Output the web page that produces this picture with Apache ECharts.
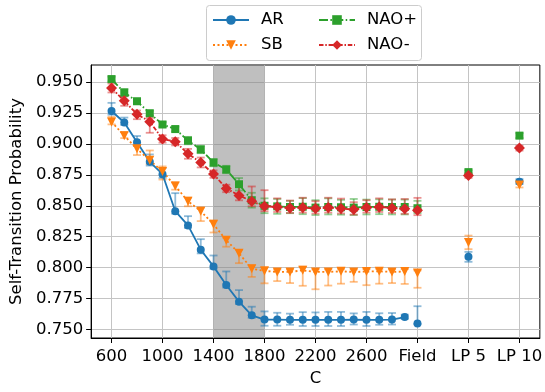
<!DOCTYPE html>
<html><head><meta charset="utf-8">
<script src="https://cdn.jsdelivr.net/npm/echarts@6/dist/echarts.min.js"></script>
<style>html,body{margin:0;padding:0;background:#fff}#c{width:545px;height:392px}</style>
</head><body><div id="c"></div><script>
// ---- data ----
const cValues = [600,700,800,900,1000,1100,1200,1300,1400,1500,1600,1700,1800,1900,2000,2100,2200,2300,2400,2500,2600,2700,2800,2900];
const extraPositions = [3000,3400,3800];
const xTickValues = [600,1000,1400,1800,2200,2600,3000,3400,3800];
const xTickLabels = ['600','1000','1400','1800','2200','2600','Field','LP 5','LP 10'];
const yTickValues = [0.75,0.775,0.8,0.825,0.85,0.875,0.9,0.925,0.95];
const shadeRange = [1400,1800];

const arMain = [0.9266,0.9173,0.9014,0.8855,0.8755,0.8456,0.8341,0.8145,0.8010,0.7859,0.7725,0.7614,0.7580,0.7580,0.7578,0.7578,0.7578,0.7578,0.7578,0.7580,0.7578,0.7578,0.7580,0.7600];
const arExtra = [0.7548,0.8087,0.8695];
const arUp = [0.0066,0.004,0.005,0.006,0.005,0.0146,0.0075,0.0085,0.0088,0.011,0.0093,0.007,0.0066,0.0055,0.005,0.0062,0.006,0.0064,0.0064,0.005,0.0064,0.0053,0.0053,0.002];
const arDown = [0.003,0.002,0.003,0.003,0.003,0.002,0.002,0.003,0.002,0.002,0.002,0.002,0.005,0.005,0.004,0.005,0.005,0.005,0.005,0.004,0.005,0.004,0.004,0.0015];
const arExtraUp = [0.014,0.004,0.002];
const arExtraDown = [0.0005,0.004,0.002];

const sbMain = [0.9178,0.9067,0.8960,0.8867,0.8778,0.8660,0.8536,0.8456,0.8350,0.8222,0.8116,0.7991,0.7973,0.7965,0.7965,0.7978,0.7965,0.7965,0.7970,0.7965,0.7968,0.7970,0.7965,0.7968];
const sbExtra = [0.7957,0.8204,0.8668];
const sbUp = [0.004,0.003,0.003,0.008,0.004,0.003,0.003,0.003,0.003,0.002,0.0027,0.0027,0.0032,0.002,0.002,0.003,0.002,0.002,0.002,0.002,0.002,0.002,0.002,0.002];
const sbDown = [0.002,0.002,0.005,0.003,0.0066,0.003,0.004,0.008,0.0066,0.0053,0.008,0.0066,0.010,0.0074,0.009,0.0125,0.014,0.011,0.010,0.008,0.011,0.010,0.009,0.010];
const sbExtraUp = [0.002,0.0055,0.002];
const sbExtraDown = [0.012,0.0055,0.002];

const naoPMain = [0.9524,0.9415,0.9345,0.9248,0.9157,0.9120,0.9027,0.8955,0.8849,0.8793,0.8674,0.8545,0.8500,0.8495,0.8490,0.8492,0.8485,0.8490,0.8488,0.8485,0.8490,0.8492,0.8490,0.8490];
const naoPExtra = [0.8480,0.8772,0.9067];
const naoPUp = [0.002,0.003,0.002,0.002,0.002,0.002,0.003,0.003,0.003,0.003,0.005,0.006,0.006,0.006,0.005,0.007,0.006,0.007,0.006,0.007,0.006,0.006,0.006,0.006];
const naoPDown = [0.002,0.003,0.002,0.002,0.002,0.002,0.003,0.003,0.003,0.003,0.005,0.006,0.006,0.006,0.005,0.006,0.006,0.006,0.006,0.006,0.006,0.006,0.006,0.006];
const naoPExtraUp = [0.006,0.0015,0.002];
const naoPExtraDown = [0.004,0.0015,0.002];

const naoMMain = [0.9452,0.9348,0.9240,0.9180,0.9040,0.9018,0.8920,0.8850,0.8756,0.8640,0.8584,0.8536,0.8496,0.8490,0.8482,0.8485,0.8477,0.8485,0.8478,0.8469,0.8485,0.8490,0.8482,0.8475];
const naoMExtra = [0.8464,0.8745,0.8966];
const naoMUp = [0.0036,0.004,0.003,0.003,0.003,0.003,0.004,0.004,0.003,0.003,0.008,0.012,0.013,0.007,0.006,0.008,0.006,0.008,0.008,0.006,0.006,0.007,0.007,0.008];
const naoMDown = [0.0036,0.004,0.004,0.009,0.003,0.003,0.004,0.004,0.003,0.003,0.004,0.004,0.004,0.004,0.004,0.004,0.004,0.004,0.004,0.004,0.004,0.004,0.004,0.004];
const naoMExtraUp = [0.010,0.002,0.002];
const naoMExtraDown = [0.004,0.002,0.002];

// ---- build ----
const FONT = 'DejaVu Sans';
const FS = 16.5;
function lineData(main, extra) {
  const d = cValues.map((c, i) => [c, main[i]]);
  extraPositions.forEach((p, i) => { d.push([p, '-']); d.push([p, extra[i]]); });
  return d;
}
function errData(main, extra, up, down, eUp, eDown) {
  const d = cValues.map((c, i) => [c, main[i] - down[i], main[i] + up[i]]);
  extraPositions.forEach((p, i) => d.push([p, extra[i] - eDown[i], extra[i] + eUp[i]]));
  return d;
}
function errSeries(color, data) {
  return {
    type: 'custom', z: 3, silent: true, data: data, encode: {x: 0, y: [1, 2]},
    renderItem: function (params, api) {
      const x = api.value(0), lo = api.value(1), hi = api.value(2);
      const a = api.coord([x, lo]), b = api.coord([x, hi]);
      const w = 4;
      const st = {stroke: color, lineWidth: 1.8};
      return {type: 'group', children: [
        {type: 'line', shape: {x1: a[0], y1: a[1], x2: b[0], y2: b[1]}, style: st},
        {type: 'line', shape: {x1: a[0] - w, y1: a[1], x2: a[0] + w, y2: a[1]}, style: st},
        {type: 'line', shape: {x1: b[0] - w, y1: b[1], x2: b[0] + w, y2: b[1]}, style: st}
      ]};
    }
  };
}
function lineSeries(name, color, symbol, size, type, data, rot) {
  return {
    name: name, type: 'line', z: 3, data: data, symbol: symbol, symbolSize: size,
    symbolRotate: rot || 0, showSymbol: true, connectNulls: false,
    lineStyle: {color: color, width: 1.8, type: type, cap: 'butt'},
    itemStyle: {color: color, borderWidth: 0},
    emphasis: {disabled: true}
  };
}
const C = {ar: '#1f77b4', sb: '#ff7f0e', np: '#2ca02c', nm: '#d62728'};
const CA = {ar: 'rgba(31,119,180,0.5)', sb: 'rgba(255,127,14,0.5)', np: 'rgba(44,160,44,0.5)', nm: 'rgba(214,39,40,0.5)'};

const series = [
  {type: 'line', z: 1, data: [], markArea: {silent: true, itemStyle: {color: 'rgba(128,128,128,0.5)'},
    data: [[{xAxis: shadeRange[0]}, {xAxis: shadeRange[1]}]]}},
  errSeries(CA.ar, errData(arMain, arExtra, arUp, arDown, arExtraUp, arExtraDown)),
  lineSeries('AR', C.ar, 'circle', 8, 'solid', lineData(arMain, arExtra)),
  errSeries(CA.sb, errData(sbMain, sbExtra, sbUp, sbDown, sbExtraUp, sbExtraDown)),
  lineSeries('SB', C.sb, 'triangle', 9, [2, 2.5], lineData(sbMain, sbExtra), 180),
  errSeries(CA.np, errData(naoPMain, naoPExtra, naoPUp, naoPDown, naoPExtraUp, naoPExtraDown)),
  lineSeries('NAO+', C.np, 'rect', 8, [9, 2.4, 1.5, 2.4], lineData(naoPMain, naoPExtra)),
  errSeries(CA.nm, errData(naoMMain, naoMExtra, naoMUp, naoMDown, naoMExtraUp, naoMExtraDown)),
  lineSeries('NAO-', C.nm, 'diamond', 11, [4.5, 1.8, 1.5, 1.8], lineData(naoMMain, naoMExtra))
];

const legendBase = {
  orient: 'vertical', top: 11, itemWidth: 36, itemHeight: 12, itemGap: 7, padding: 0,
  textStyle: {fontFamily: FONT, fontSize: FS, color: '#000', lineHeight: 18, padding: [0, 0, 0, 7]},
  selectedMode: false
};

const chart = echarts.init(document.getElementById('c'), null, {renderer: 'canvas'});
chart.setOption({
  animation: false,
  backgroundColor: '#fff',
  textStyle: {fontFamily: FONT},
  grid: {left: 88, right: 2, top: 65, bottom: 50, show: true, borderColor: '#000', borderWidth: 1, backgroundColor: 'transparent'},
  graphic: [{type: 'rect', left: 206, top: 5, shape: {width: 215, height: 55, r: 3},
    style: {fill: 'rgba(255,255,255,0.8)', stroke: '#cccccc', lineWidth: 1}, z: 0}],
  legend: [
    Object.assign({}, legendBase, {left: 212, data: ['AR', 'SB']}),
    Object.assign({}, legendBase, {left: 318, data: ['NAO+', 'NAO-']})
  ],
  xAxis: {
    type: 'value', min: 440, max: 3960,
    name: 'C', nameLocation: 'middle', nameGap: 32,
    nameTextStyle: {fontFamily: FONT, fontSize: FS, color: '#000'},
    axisLine: {show: true, onZero: false, lineStyle: {color: '#000', width: 1}},
    axisTick: {show: true, customValues: xTickValues, length: 5, inside: false, lineStyle: {color: '#000', width: 1}},
    axisLabel: {customValues: xTickValues, margin: 10, fontFamily: FONT, fontSize: FS, color: '#000',
      formatter: function (v) { const i = xTickValues.indexOf(v); return i >= 0 ? xTickLabels[i] : ''; }},
    splitLine: {show: true, lineStyle: {color: '#c4c4c4', width: 1}}
  },
  yAxis: {
    type: 'value', min: 0.7431, max: 0.9638,
    name: 'Self-Transition Probability', nameLocation: 'middle', nameGap: 62,
    nameTextStyle: {fontFamily: FONT, fontSize: FS, color: '#000'},
    axisLine: {show: true, onZero: false, lineStyle: {color: '#000', width: 1}},
    axisTick: {show: true, customValues: yTickValues, length: 5, inside: false, lineStyle: {color: '#000', width: 1}},
    axisLabel: {customValues: yTickValues, margin: 8, fontFamily: FONT, fontSize: FS, color: '#000',
      formatter: function (v) { return v.toFixed(3); }},
    splitLine: {show: true, lineStyle: {color: '#c4c4c4', width: 1}}
  },
  series: series
});
</script></body></html>
